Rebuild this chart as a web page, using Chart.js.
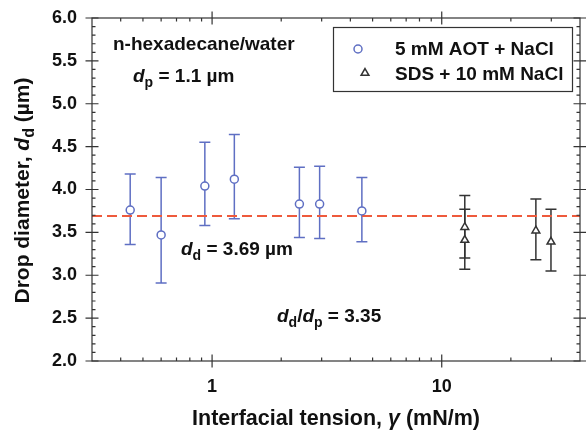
<!DOCTYPE html>
<html><head><meta charset="utf-8">
<script src="https://cdn.jsdelivr.net/npm/chart.js@4/dist/chart.umd.min.js"></script>
<style>html,body{margin:0;padding:0;background:#fff}#wrap{width:586px;height:437px}</style>
</head><body><div id="wrap"><canvas id="c" width="586" height="437"></canvas></div>
<script>
// ---- data ----
const aotTension  = [0.44, 0.60, 0.93, 1.25, 2.40, 2.94, 4.49];
const aotDiameter = [3.76, 3.47, 4.04, 4.12, 3.83, 3.83, 3.75];
const aotHigh     = [4.18, 4.14, 4.55, 4.64, 4.26, 4.27, 4.14];
const aotLow      = [3.36, 2.91, 3.58, 3.66, 3.44, 3.43, 3.39];
const sdsTension  = [12.6, 12.6, 25.7, 29.9];
const sdsDiameter = [3.56, 3.41, 3.52, 3.39];
const sdsHigh     = [3.93, 3.77, 3.89, 3.77];
const sdsLow      = [3.20, 3.07, 3.18, 3.05];
const meanDiameter = 3.69;
const xRange = [0.3, 40];
const yRange = [2.0, 6.0];
const xMajorTicks = [1, 10];
const xMinorTicks = [0.4, 0.5, 0.6, 0.7, 0.8, 0.9, 2, 3, 4, 5, 6, 7, 8, 9, 20, 30];
const yMajorTicks = [2.0, 2.5, 3.0, 3.5, 4.0, 4.5, 5.0, 5.5, 6.0];
const seriesLabels = ['5 mM AOT + NaCl', 'SDS + 10 mM NaCl'];

const FAM = '"Liberation Sans", Arial, Helvetica, sans-serif';
const BLUE = '#5f6fc3';
const DARK = '#333333';
const RED = '#ee5a3c';

function segFont(s, size) {
  const sz = s.sub ? Math.round(size * 0.74) : size;
  return (s.it ? 'italic ' : '') + 'bold ' + sz + 'px ' + FAM;
}
function richWidth(ctx, segs, size) {
  let w = 0;
  segs.forEach(s => { ctx.font = segFont(s, size); w += ctx.measureText(s.t).width; });
  return w;
}
function drawRich(ctx, segs, x, y, size, align) {
  const w = richWidth(ctx, segs, size);
  let cx = align === 'center' ? x - w / 2 : x;
  ctx.textAlign = 'left';
  ctx.textBaseline = 'alphabetic';
  segs.forEach(s => {
    ctx.font = segFont(s, size);
    ctx.fillText(s.t, cx, y + (s.sub ? size * 0.26 : 0));
    cx += ctx.measureText(s.t).width;
  });
}

const errorBars = {
  id: 'errorBars',
  beforeDatasetsDraw(chart) {
    const ctx = chart.ctx, xs = chart.scales.x, ys = chart.scales.y;
    const sets = [[aotTension, aotHigh, aotLow, BLUE], [sdsTension, sdsHigh, sdsLow, DARK]];
    ctx.save();
    ctx.lineWidth = 1.5;
    sets.forEach(([xv, hv, lv, col]) => {
      ctx.strokeStyle = col;
      xv.forEach((v, j) => {
        const px = xs.getPixelForValue(v);
        const hi = ys.getPixelForValue(hv[j]);
        const lo = ys.getPixelForValue(lv[j]);
        ctx.beginPath();
        ctx.moveTo(px, hi); ctx.lineTo(px, lo);
        ctx.moveTo(px - 5.5, hi); ctx.lineTo(px + 5.5, hi);
        ctx.moveTo(px - 5.5, lo); ctx.lineTo(px + 5.5, lo);
        ctx.stroke();
      });
    });
    ctx.restore();
  }
};

const frameAndText = {
  id: 'frameAndText',
  afterDraw(chart) {
    const ctx = chart.ctx, xs = chart.scales.x, ys = chart.scales.y;
    const a = chart.chartArea;
    ctx.save();
    // frame
    ctx.strokeStyle = DARK;
    ctx.lineWidth = 1.2;
    ctx.strokeRect(a.left, a.top, a.right - a.left, a.bottom - a.top);
    ctx.beginPath();
    const maj = 6.5, mn = 3.5;
    xMajorTicks.forEach(v => {
      const p = xs.getPixelForValue(v);
      ctx.moveTo(p, a.bottom - maj); ctx.lineTo(p, a.bottom + maj);
      ctx.moveTo(p, a.top - maj); ctx.lineTo(p, a.top + maj);
    });
    xMinorTicks.forEach(v => {
      const p = xs.getPixelForValue(v);
      ctx.moveTo(p, a.bottom - mn); ctx.lineTo(p, a.bottom);
      ctx.moveTo(p, a.top); ctx.lineTo(p, a.top + mn);
    });
    yMajorTicks.forEach((v, i) => {
      const p = ys.getPixelForValue(v);
      ctx.moveTo(a.left - maj, p); ctx.lineTo(a.left + maj, p);
      ctx.moveTo(a.right - maj, p); ctx.lineTo(a.right + maj, p);
      if (i < yMajorTicks.length - 1) {
        const step = (yMajorTicks[i + 1] - v) / 5;
        for (let k = 1; k < 5; k++) {
          const q = ys.getPixelForValue(v + k * step);
          ctx.moveTo(a.left, q); ctx.lineTo(a.left + mn, q);
          ctx.moveTo(a.right - mn, q); ctx.lineTo(a.right, q);
        }
      }
    });
    ctx.stroke();

    // legend
    ctx.lineWidth = 1.2;
    ctx.strokeStyle = DARK;
    ctx.strokeRect(333.5, 27.5, 239, 64);
    ctx.fillStyle = '#111';
    ctx.font = 'bold 19px ' + FAM;
    ctx.textAlign = 'left';
    ctx.textBaseline = 'alphabetic';
    ctx.fillText(seriesLabels[0], 395, 55);
    ctx.fillText(seriesLabels[1], 395, 80);
    ctx.fillStyle = '#fff'; ctx.lineWidth = 1.5;
    ctx.strokeStyle = BLUE;
    Chart.helpers.drawPoint(ctx, { pointStyle: 'circle', radius: 4, borderWidth: 1.5, rotation: 0 }, 358, 49);
    ctx.strokeStyle = DARK;
    Chart.helpers.drawPoint(ctx, { pointStyle: 'triangle', radius: 4.5, borderWidth: 1.5, rotation: 0 }, 365, 73);

    // annotations
    ctx.fillStyle = '#111';
    drawRich(ctx, [{ t: 'n-hexadecane/water' }], 113, 50, 19, 'left');
    drawRich(ctx, [{ t: 'd', it: true }, { t: 'p', sub: true }, { t: ' = 1.1 \u00b5m' }], 133, 82, 19, 'left');
    drawRich(ctx, [{ t: 'd', it: true }, { t: 'd', sub: true }, { t: ' = 3.69 \u00b5m' }], 181, 255, 19, 'left');
    drawRich(ctx, [{ t: 'd', it: true }, { t: 'd', sub: true }, { t: '/' }, { t: 'd', it: true }, { t: 'p', sub: true }, { t: ' = 3.35' }], 277, 322, 19, 'left');

    // axis titles
    drawRich(ctx, [{ t: 'Interfacial tension, ' }, { t: '\u03b3', it: true }, { t: ' (mN/m)' }], (a.left + a.right) / 2, 425, 21.5, 'center');
    ctx.save();
    ctx.translate(29, (a.top + a.bottom) / 2 + 1);
    ctx.rotate(-Math.PI / 2);
    drawRich(ctx, [{ t: 'Drop diameter, ' }, { t: 'd', it: true }, { t: 'd', sub: true }, { t: ' (\u00b5m)' }], 0, 0, 21, 'center');
    ctx.restore();
    ctx.restore();
  }
};

const toPts = (xs, ys) => xs.map((x, i) => ({ x: x, y: ys[i] }));

new Chart(document.getElementById('c'), {
  type: 'scatter',
  data: {
    datasets: [
      {
        label: seriesLabels[0],
        data: toPts(aotTension, aotDiameter),
        pointStyle: 'circle', pointRadius: 4, pointBorderWidth: 1.5,
        borderColor: BLUE, backgroundColor: '#ffffff', showLine: false
      },
      {
        label: seriesLabels[1],
        data: toPts(sdsTension, sdsDiameter),
        pointStyle: 'triangle', pointRadius: 4.5, pointBorderWidth: 1.5,
        borderColor: DARK, backgroundColor: '#ffffff', showLine: false
      },
      {
        label: 'mean',
        data: [{ x: xRange[0], y: meanDiameter }, { x: xRange[1], y: meanDiameter }],
        showLine: true, pointRadius: 0, borderColor: RED, borderWidth: 2,
        borderDash: [10, 5], fill: false
      }
    ]
  },
  options: {
    responsive: false,
    animation: false,
    devicePixelRatio: 1,
    layout: { padding: { top: 18, right: 3, left: 0, bottom: 0 } },
    plugins: { legend: { display: false }, tooltip: { enabled: false } },
    scales: {
      x: {
        type: 'logarithmic', min: xRange[0], max: xRange[1],
        grid: { display: false, drawTicks: false }, border: { display: false },
        afterBuildTicks: s => { s.ticks = xMajorTicks.map(v => ({ value: v })); },
        afterFit: s => { s.height = 76; s.paddingLeft = 0; s.paddingRight = 0; },
        ticks: {
          padding: 15, color: '#111',
          font: { family: FAM, size: 18, weight: 'bold' },
          callback: v => String(v)
        }
      },
      y: {
        min: yRange[0], max: yRange[1],
        grid: { display: false, drawTicks: false }, border: { display: false },
        afterBuildTicks: s => { s.ticks = yMajorTicks.map(v => ({ value: v })); },
        afterFit: s => { s.width = 92; s.paddingTop = 0; s.paddingBottom = 0; },
        ticks: {
          padding: 15, color: '#111',
          font: { family: FAM, size: 18, weight: 'bold' },
          callback: v => Number(v).toFixed(1)
        }
      }
    }
  },
  plugins: [errorBars, frameAndText]
});
</script>
</body></html>
